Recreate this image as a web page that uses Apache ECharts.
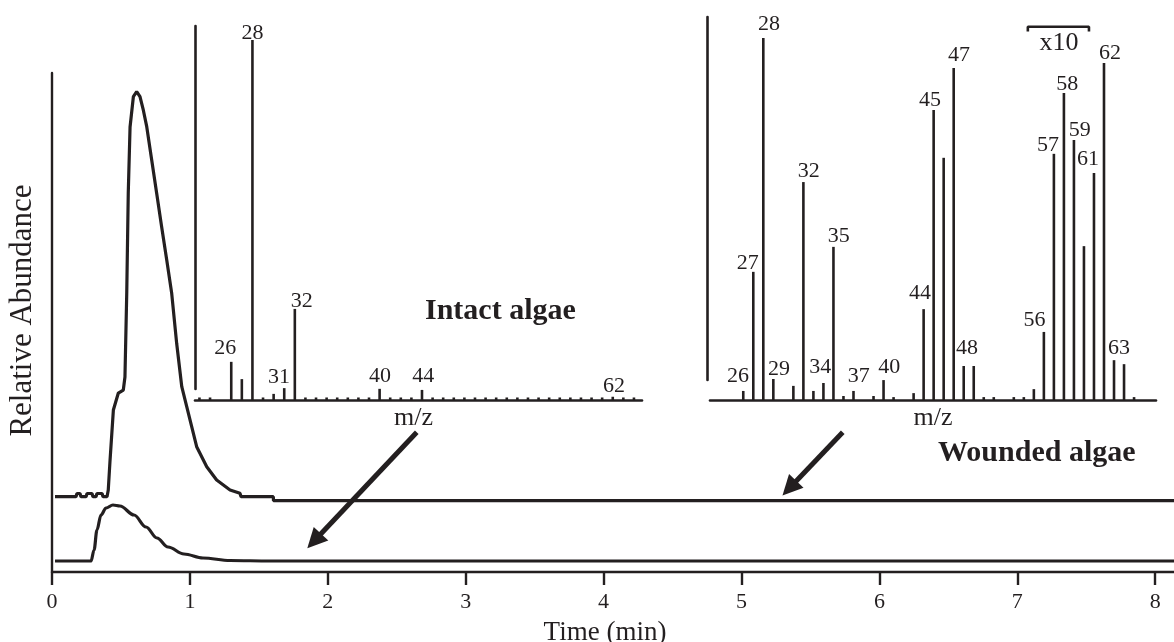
<!DOCTYPE html>
<html><head><meta charset="utf-8">
<script src="https://cdn.jsdelivr.net/npm/echarts@6/dist/echarts.min.js"></script>
<style>html,body{margin:0;padding:0;background:#fff}#c{width:1174px;height:642px}</style>
</head><body><div id="c"></div>
<script>
// ---------- DATA ----------
const timeTicks = [0, 1, 2, 3, 4, 5, 6, 7, 8];

// Upper chromatogram (wounded algae), [time (min), relative abundance incl. offset]
const woundedTrace = [
  [0.022,15.09],[0.174,15.09],[0.181,15.73],[0.203,15.73],[0.210,15.09],[0.247,15.09],[0.254,15.73],
  [0.290,15.73],[0.297,15.09],[0.319,15.09],[0.326,15.73],[0.363,15.73],[0.370,15.09],[0.399,15.09],
  [0.408,16.43],[0.421,22.44],[0.445,32.46],[0.481,35.87],[0.517,36.47],[0.529,39.08],[0.542,55.91],
  [0.553,75.95],[0.566,89.18],[0.590,95.25],[0.614,96.25],[0.638,95.25],[0.662,92.59],[0.687,89.24],
  [0.723,82.57],[0.759,75.89],[0.795,69.20],[0.832,62.53],[0.868,55.85],[0.904,45.83],[0.941,37.13],
  [0.977,33.13],[1.013,29.12],[1.049,25.11],[1.122,21.10],[1.194,18.44],[1.291,16.43],[1.363,15.77],
  [1.371,15.09],[1.605,15.09],[1.606,14.29],[8.136,14.29]
];
// Lower chromatogram (intact algae)
const intactTrace = [
  [0.022,2.20],[0.283,2.20],[0.305,4.41],[0.326,8.42],[0.355,11.42],[0.392,12.83],[0.442,13.43],
  [0.493,13.23],[0.595,11.42],[0.682,9.02],[0.761,6.81],[0.841,5.01],[0.957,3.61],[1.095,2.81],
  [1.291,2.30],[1.581,2.20],[8.136,2.20]
];

// Intact algae mass spectrum
const intactMz    = [23,24,26,27,28,29,30,31,32,33,34,35,36,37,38,39,40,41,42,43,44,45,46,47,48,49,50,51,52,53,54,55,56,57,58,59,60,61,62,63,64];
const intactAbund = [0.7,0.7,10.6,5.8,100,0.7,1.7,3.3,25.3,0.7,0.7,0.7,0.7,0.7,0.7,0.7,3.1,0.7,0.7,0.7,2.8,0.7,0.7,0.7,0.7,0.7,0.7,0.7,0.7,0.7,0.7,0.7,0.7,0.7,0.7,0.7,0.7,0.7,0.9,0.7,0.7];
const intactLabeled = [26,28,31,32,40,44,62];

// Wounded algae mass spectrum
const woundedMz    = [26,27,28,29,31,32,33,34,35,36,37,39,40,41,43,44,45,46,47,48,49,50,51,53,54,55,56,57,58,59,60,61,62,63,64,65];
const woundedAbund = [2.5,35.4,100,5.8,3.9,60.2,2.5,4.7,42.3,1.1,2.5,1.1,5.5,0.8,1.9,25.1,80.1,66.9,91.7,9.4,9.4,0.8,0.8,0.8,0.8,3.0,18.8,68.0,84.8,71.8,42.5,62.7,93.1,11.0,9.9,0.8];
const woundedLabeled = [26,27,28,29,32,34,35,37,40,44,45,47,48,56,57,58,59,61,62,63];

// x10 bracket span (m/z) and level
const x10Span = [54.4, 60.5];
const x10Level = [101.8, 103.1];
const x10TextAt = [57.5, 98.6];

// Arrows (main chart coords: [time, abundance]) start -> end
const arrows = [
  [[2.645, 28.0], [1.901, 6.21]],
  [[5.734, 28.0], [5.347, 16.8]]
];

// ---------- STYLE ----------
const INK = '#231f20';
const FONT = "'Liberation Serif','Times New Roman',serif";
const intactLabelOffset = {26:[-6,-2.7],28:[0,4.3],31:[-5.3,0],32:[7,3],40:[0.4,-1.3],44:[1.3,-2.3],62:[1.2,0.3]};
const woundedLabelOffset = {26:[-5.3,-3.3],27:[-5.6,2.6],28:[5.7,-2.4],29:[5.7,1.7],32:[5.3,0.4],34:[-3.3,-5],35:[5.3,0],37:[5.3,-3.3],40:[5.7,-2.3],44:[-3.7,-5],45:[-3.7,1],47:[5.3,-1.7],48:[3.4,-6.4],56:[-9.3,-0.7],57:[-6,2],58:[3.4,2.7],59:[5.7,1],61:[-6,-2.4],62:[6,1],63:[5,-0.7]};

function barData(mz, ab, labeled, offs) {
  return mz.map((m, i) => {
    const item = { value: [m, ab[i]] };
    if (labeled.indexOf(m) >= 0) {
      item.label = { show: true, formatter: String(m), offset: offs[m] || [0, 0] };
    }
    return item;
  });
}

const hiddenX = (gi, min, max) => ({ type:'value', gridIndex:gi, min:min, max:max, show:false });
const chart = echarts.init(document.getElementById('c'), null, { renderer: 'canvas' });
const G = (o) => Object.assign({ outerBoundsMode: 'none', containLabel: false }, o);

const option = {
  animation: false,
  backgroundColor: '#fff',
  textStyle: { fontFamily: FONT, color: INK },
  grid: [
    G({ left: 52, right: 0, top: 73, bottom: 70 }),          // main
    G({ left: 195, top: 40, width: 447, height: 360 }),       // inset 1 bars
    G({ left: 195, top: 26, width: 20, height: 363 }),        // inset 1 vertical axis
    G({ left: 710, top: 10, width: 446, height: 390 }),       // inset 2 bars
    G({ left: 707, top: 17, width: 20, height: 363 })         // inset 2 vertical axis
  ],
  xAxis: [
    { type:'value', gridIndex:0, min:0, max:8.136, interval:1,
      axisLine:{ show:true, lineStyle:{ color:INK, width:2.4 } },
      axisTick:{ show:true, length:13, lineStyle:{ color:INK, width:2.4 }, customValues: timeTicks },
      axisLabel:{ show:true, fontSize:22, color:INK, fontFamily:FONT, margin:19, customValues: timeTicks },
      splitLine:{ show:false },
      name:'Time (min)', nameLocation:'middle', nameGap:47,
      nameTextStyle:{ fontSize:27, color:INK, fontFamily:FONT, padding:[0,16,0,0] } },
    { type:'value', gridIndex:1, min:22.58, max:64.76,
      axisLine:{ show:true, onZero:false, lineStyle:{ color:INK, width:2.6 } },
      axisTick:{ show:false }, axisLabel:{ show:false }, splitLine:{ show:false },
      name:'m/z', nameLocation:'middle', nameGap:5,
      nameTextStyle:{ fontSize:26, color:INK, fontFamily:FONT, padding:[0,10,0,0] } },
    hiddenX(2, 0, 1),
    { type:'value', gridIndex:3, min:22.68, max:67.19,
      axisLine:{ show:true, onZero:false, lineStyle:{ color:INK, width:2.6 } },
      axisTick:{ show:false }, axisLabel:{ show:false }, splitLine:{ show:false },
      name:'m/z', nameLocation:'middle', nameGap:5,
      nameTextStyle:{ fontSize:26, color:INK, fontFamily:FONT } },
    hiddenX(4, 0, 1)
  ],
  yAxis: [
    { type:'value', gridIndex:0, min:0, max:100,
      axisLine:{ show:true, lineStyle:{ color:INK, width:2.4 } },
      axisTick:{ show:false }, axisLabel:{ show:false }, splitLine:{ show:false },
      name:'Relative Abundance', nameLocation:'middle', nameRotate:90, nameGap:14,
      nameTextStyle:{ fontSize:31, color:INK, fontFamily:FONT, padding:[0,0,0,24] } },
    { type:'value', gridIndex:1, min:0, max:100, show:false },
    { type:'value', gridIndex:2, min:0, max:1,
      axisLine:{ show:true, lineStyle:{ color:INK, width:2.6 } },
      axisTick:{ show:false }, axisLabel:{ show:false }, splitLine:{ show:false } },
    { type:'value', gridIndex:3, min:0, max:107.73, show:false },
    { type:'value', gridIndex:4, min:0, max:1,
      axisLine:{ show:true, lineStyle:{ color:INK, width:2.6 } },
      axisTick:{ show:false }, axisLabel:{ show:false }, splitLine:{ show:false } }
  ],
  series: [
    { type:'line', xAxisIndex:0, yAxisIndex:0, data: woundedTrace, symbol:'none',
      lineStyle:{ color:INK, width:3.2 } },
    { type:'line', xAxisIndex:0, yAxisIndex:0, data: intactTrace, symbol:'none',
      smooth:0.35, smoothMonotone:'x', lineStyle:{ color:INK, width:3.2 } },
    { type:'lines', coordinateSystem:'cartesian2d', xAxisIndex:0, yAxisIndex:0, polyline:false,
      symbol:['none','triangle'], symbolSize:[16,20],
      lineStyle:{ color:INK, width:5, opacity:1, curveness:0 },
      itemStyle:{ color:INK, opacity:1 },
      data: arrows.map(a => ({ coords: a })) },
    { type:'bar', xAxisIndex:1, yAxisIndex:1, barWidth:2.6,
      itemStyle:{ color:INK },
      label:{ show:false, position:'top', distance:0, fontSize:22, color:INK, fontFamily:FONT },
      data: barData(intactMz, intactAbund, intactLabeled, intactLabelOffset) },
    { type:'bar', xAxisIndex:3, yAxisIndex:3, barWidth:2.6,
      itemStyle:{ color:INK },
      label:{ show:false, position:'top', distance:0, fontSize:22, color:INK, fontFamily:FONT },
      data: barData(woundedMz, woundedAbund, woundedLabeled, woundedLabelOffset) },
    { type:'line', xAxisIndex:3, yAxisIndex:3, clip:false, symbol:'none',
      lineStyle:{ color:INK, width:2.6 },
      data: [[x10Span[0], x10Level[0]], [x10Span[0], x10Level[1]], [x10Span[1], x10Level[1]], [x10Span[1], x10Level[0]]] },
    { type:'scatter', xAxisIndex:3, yAxisIndex:3, symbolSize:0, clip:false,
      itemStyle:{ opacity:1, color:INK },
      label:{ show:true, position:'inside', formatter:'x10', fontSize:26, color:INK, fontFamily:FONT, opacity:1 },
      data: [x10TextAt] }
  ],
  graphic: [
    { type:'text', left:425, top:296, style:{ text:'Intact algae', font:"bold 30px 'Liberation Serif','Times New Roman',serif", fill:INK } },
    { type:'text', left:938, top:438, style:{ text:'Wounded algae', font:"bold 30px 'Liberation Serif','Times New Roman',serif", fill:INK } }
  ]
};
chart.setOption(option);
</script>
</body></html>
